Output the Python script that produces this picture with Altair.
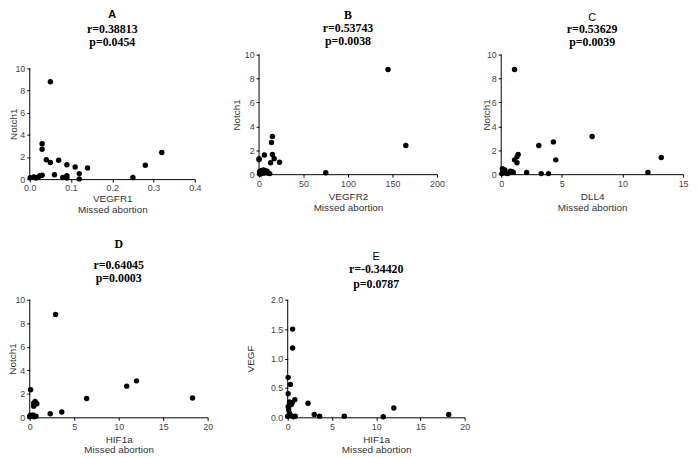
import altair as alt
import pandas as pd

SANS = "Liberation Sans"
SERIF = "Liberation Serif"

# ---------------- data ----------------
A_x = [0.05, 0.03, 0.03, 0.04, 0.05, 0.07, 0.09, 0.11, 0.14, 0.12, 0.12, 0.06,
       0.08, 0.09, 0.09, 0.03, 0.02, 0.01, 0.001, 0.025, 0.015, 0.28, 0.32, 0.25]
A_y = [8.8, 3.2, 2.7, 1.75, 1.5, 1.7, 1.3, 1.1, 1.0, 0.5, 0.02, 0.4,
       0.15, 0.3, 0.1, 0.35, 0.18, 0.2, 0.12, 0.3, 0.1, 1.25, 2.4, 0.15]

B_x = [145, 165, 75, 15, 14, 15, 6, 0, 0, 17, 13, 23,
       1, 2, 3, 4, 5, 6, 7, 8, 9, 10, 12, 1, 3, 0.5]
B_y = [8.75, 2.4, 0.12, 3.15, 2.65, 1.65, 1.6, 1.3, 1.2, 1.3, 0.95, 1.0,
       0.1, 0.3, 0.05, 0.2, 0.35, 0.1, 0.3, 0.15, 0.25, 0.1, 0.05, 0.0, 0.3, 0.2]

C_x = [1.1, 7.5, 4.3, 3.1, 4.5, 13.2, 12.1, 1.4, 1.3, 1.1, 1.3, 2.1, 3.3, 3.9,
       0.1, 0.2, 0.35, 0.6, 0.75, 0.9, 1.0, 0.05, 0.5, 0.15, 0.3]
C_y = [8.75, 3.15, 2.7, 2.4, 1.2, 1.4, 0.15, 1.65, 1.45, 1.2, 0.95, 0.15, 0.05, 0.05,
       0.45, 0.3, 0.1, 0.1, 0.25, 0.2, 0.15, 0.05, 0.05, 0.2, 0.35]

D_x = [2.9, 10.9, 12.0, 18.3, 6.4, 3.6, 2.3, 0.1, 0.45, 0.6, 0.8, 0.45,
       0.05, 0.35, 0.7, 0.0, 0.2, 0.5]
D_y = [8.75, 2.65, 3.1, 1.65, 1.6, 0.45, 0.3, 2.35, 1.2, 1.35, 1.15, 0.95,
       0.15, 0.2, 0.1, 0.05, 0.1, 0.05]

E_x = [0.55, 0.55, 0.05, 0.3, 0.05, 2.3, 3.0, 3.6, 6.4, 10.8, 12.0, 18.2,
       0.8, 0.5, 0.2, 0.05, 0.1, 0.2, 0.35, 0.65, 0.85, 0.0, 0.2, 0.4]
E_y = [1.5, 1.18, 0.68, 0.56, 0.4, 0.24, 0.05, 0.02, 0.02, 0.01, 0.16, 0.05,
       0.3, 0.25, 0.2, 0.18, 0.13, 0.07, 0.03, 0.01, 0.02, 0.02, 0.26, 0.22]

heads = ["A", "B", "C", "D", "E"]
r_text = ["r=0.38813", "r=0.53743", "r=0.53629", "r=0.64045", "r=-0.34420"]
p_text = ["p=0.0454", "p=0.0038", "p=0.0039", "p=0.0003", "p=0.0787"]
x_titles = ["VEGFR1", "VEGFR2", "DLL4", "HIF1a", "HIF1a"]
y_titles = ["Notch1", "Notch1", "Notch1", "Notch1", "VEGF"]
sub_label = "Missed abortion"

A_xticks = [0.0, 0.1, 0.2, 0.3, 0.4]
B_xticks = [0, 50, 100, 150, 200]
C_xticks = [0, 5, 10, 15]
D_xticks = [0, 5, 10, 15, 20]
E_xticks = [0, 5, 10, 15, 20]
N_yticks = [0, 2, 4, 6, 8, 10]
E_yticks = [0.0, 0.5, 1.0, 1.5, 2.0]


def panel(xs, ys, i, xticks, xfmt, yticks, yfmt, w, h, ytop_dom,
          head_font, head_size, head_weight, sub_pad, sub_lh, off,
          x_pad, x_lh, y_title_x, y_title_y=None):
    df = pd.DataFrame({"x": xs, "y": ys})
    xscale = alt.Scale(domain=[xticks[0], xticks[-1]], nice=False, zero=False)
    yscale = alt.Scale(domain=[0, ytop_dom], nice=False, zero=False)
    yaxis_kw = dict(values=yticks, format=yfmt, title=y_titles[i], domain=False,
                    labelFlush=False, labelOverlap=False, titleX=y_title_x,
                    titleBaseline="middle", titleAlign="center")
    if y_title_y is not None:
        yaxis_kw["titleY"] = y_title_y
    xaxis = alt.Axis(values=xticks, format=xfmt, title=[x_titles[i], sub_label],
                     labelFlush=False, labelOverlap=False,
                     titlePadding=x_pad, titleLineHeight=x_lh)
    yaxis = alt.Axis(**yaxis_kw)
    pts = alt.Chart(df).mark_circle(size=30, color="black", opacity=1).encode(
        x=alt.X("x:Q", scale=xscale, axis=xaxis),
        y=alt.Y("y:Q", scale=yscale, axis=yaxis),
    )
    rule_df = pd.DataFrame({"x": [xticks[0]], "y": [yticks[0]], "y2": [yticks[-1]]})
    rule = alt.Chart(rule_df).mark_rule(color="black", strokeWidth=1).encode(
        x=alt.X("x:Q", scale=xscale, axis=xaxis),
        y=alt.Y("y:Q", scale=yscale, axis=yaxis),
        y2="y2:Q")
    return alt.layer(pts, rule).properties(
        width=w, height=h,
        title=alt.TitleParams(
            text=heads[i], subtitle=[r_text[i], p_text[i]],
            font=head_font, fontSize=head_size, fontWeight=head_weight,
            color="black", subtitleFont=SERIF, subtitleFontSize=12,
            subtitleFontWeight="bold", subtitleColor="black",
            subtitlePadding=sub_pad, subtitleLineHeight=sub_lh,
            offset=off, anchor="middle", frame="group"),
    )


pA = panel(A_x, A_y, 0, A_xticks, ".1f", N_yticks, "d", 167, 126, 11.25,
           SANS, 11, "bold", 4.5, 13, 7, 1, 11, -16, 70)
pB = panel(B_x, B_y, 1, B_xticks, "d", N_yticks, "d", 180, 121, 10,
           SERIF, 12, "bold", 1.5, 13, 2.5, 4, 11, -23)
pC = panel(C_x, C_y, 2, C_xticks, "d", N_yticks, "d", 184, 121, 10,
           SANS, 11, "normal", 1.5, 13, 2.5, 4, 11, -15)
pD = panel(D_x, D_y, 3, D_xticks, "d", N_yticks, "d", 180, 119, 10,
           SERIF, 12, "bold", 9.5, 13.5, 10.5, 3, 11, -17)
pE = panel(E_x, E_y, 4, E_xticks, "d", E_yticks, ".1f", 179, 119, 2,
           SANS, 11, "normal", 2, 15, 6, 3, 11, -38)

top = alt.hconcat(pA, pB, pC, spacing=65, bounds="flush")
bottom = alt.hconcat(pD, pE, spacing=81, bounds="flush")

chart = alt.vconcat(top, bottom, spacing=23).properties(
    padding={"left": 0, "top": -2.5, "right": 0, "bottom": 0}
).configure_view(stroke=None).configure_axis(
    grid=False, domainColor="black", domainWidth=1, tickColor="black",
    tickSize=3, tickWidth=1, labelPadding=2, labelFont=SANS, labelFontSize=9,
    labelColor="#444444", titleFont=SANS, titleFontSize=10,
    titleFontWeight="normal", titleColor="#333333", labelOverlap=False,
).configure_axisY(labelOverlap=False)

chart.save("out.html", embed_options={"renderer": "svg", "actions": False})
